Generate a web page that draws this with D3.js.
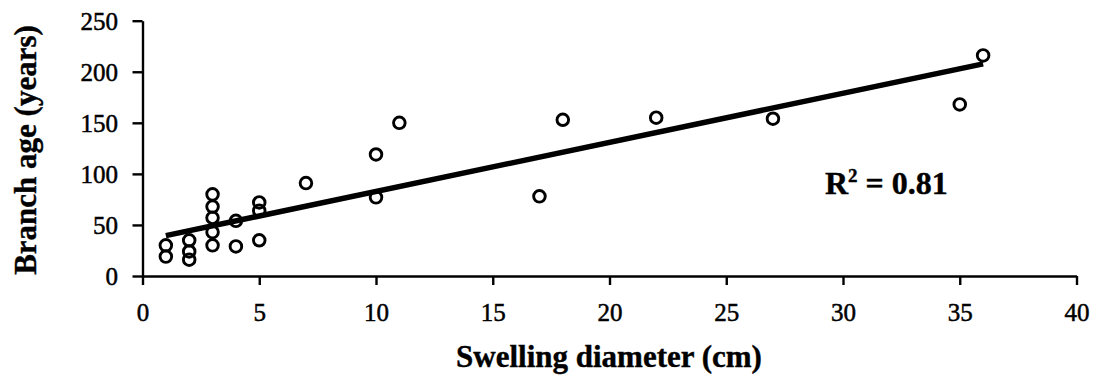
<!DOCTYPE html>
<html>
<head>
<meta charset="utf-8">
<script src="https://cdn.jsdelivr.net/npm/d3@7/dist/d3.min.js"></script>
<style>
  html, body { margin: 0; padding: 0; background: #fff; }
  svg { display: block; }
  svg text { font-family: "Liberation Serif", "Times New Roman", serif !important; fill: #000; }
</style>
</head>
<body>
<svg id="chart" width="1100" height="390"></svg>
<script>
// ---- data ----
const diameter = [1, 1, 2, 2, 2, 3, 3, 3, 3, 3, 4, 4, 5, 5, 5, 7, 10, 10, 11, 17, 18, 22, 27, 35, 36];
const age      = [30, 19, 35, 24, 16, 80, 68, 57, 43, 30, 54, 29, 72, 64, 35, 91, 119, 77, 150, 78, 153, 155, 154, 168, 216];
const xTicks = [0, 5, 10, 15, 20, 25, 30, 35, 40];
const yTicks = [0, 50, 100, 150, 200, 250];
const xTitle = "Swelling diameter (cm)";
const yTitle = "Branch age (years)";
const r2Label = ["R", "2", " = 0.81"];

// ---- layout ----
const svg = d3.select("#chart");
const x = d3.scaleLinear().domain([0, 40]).range([142.5, 1076.5]);
const y = d3.scaleLinear().domain([0, 250]).range([276, 20.7]);

// least squares trend line
const n = diameter.length;
const mx = d3.mean(diameter), my = d3.mean(age);
let sxy = 0, sxx = 0;
for (let i = 0; i < n; i++) { sxy += (diameter[i]-mx)*(age[i]-my); sxx += (diameter[i]-mx)**2; }
const slope = sxy / sxx, intercept = my - slope * mx;
const xExt = d3.extent(diameter);

// axes
const gx = svg.append("g").attr("transform", `translate(0,${y(0)})`)
  .call(d3.axisBottom(x).tickValues(xTicks).tickSize(9).tickSizeOuter(0).tickFormat(d3.format("d")));
gx.selectAll("text").attr("y", 0).attr("dy", 45);

const gy = svg.append("g").attr("transform", `translate(${x(0)},0)`)
  .call(d3.axisLeft(y).tickValues(yTicks).tickSize(10).tickSizeOuter(0).tickFormat(d3.format("d")));
gy.selectAll("text").attr("x", -24.5).attr("dy", "0.34em");

[gx, gy].forEach(g => {
  g.attr("font-family", null).attr("font-size", null);
  g.select(".domain").attr("stroke", "#000").attr("stroke-width", 2.4);
  g.selectAll(".tick line").attr("stroke", "#000").attr("stroke-width", 2.4);
  g.selectAll("text").style("font-size", "25px").attr("stroke", "#000").attr("stroke-width", 0.5);
});

// points
svg.append("g").selectAll("circle").data(diameter.map((d, i) => [d, age[i]])).join("circle")
  .attr("cx", d => x(d[0])).attr("cy", d => y(d[1])).attr("r", 5.8)
  .attr("fill", "none").attr("stroke", "#000").attr("stroke-width", 2.9);

// trend line
svg.append("line")
  .attr("x1", x(xExt[0])).attr("y1", y(intercept + slope * xExt[0]))
  .attr("x2", x(xExt[1])).attr("y2", y(intercept + slope * xExt[1]))
  .attr("stroke", "#000").attr("stroke-width", 5.5).attr("stroke-linecap", "butt");

// titles
svg.append("text").attr("x", 609).attr("y", 367).attr("text-anchor", "middle")
  .style("font-size", "31px").style("font-weight", "bold").attr("stroke", "#000").attr("stroke-width", 0.4).text(xTitle);
svg.append("text").attr("transform", "translate(36,150) rotate(-90)").attr("text-anchor", "middle")
  .style("font-size", "31px").style("font-weight", "bold").attr("stroke", "#000").attr("stroke-width", 0.4).text(yTitle);

// R² label
const rt = svg.append("text").attr("x", 825).attr("y", 194).style("font-size", "32px").style("font-weight", "bold")
  .attr("stroke", "#000").attr("stroke-width", 0.4);
rt.append("tspan").text(r2Label[0]);
rt.append("tspan").attr("dy", -12).style("font-size", "19px").text(r2Label[1]);
rt.append("tspan").attr("dy", 12).text(r2Label[2]);
</script>
</body>
</html>
